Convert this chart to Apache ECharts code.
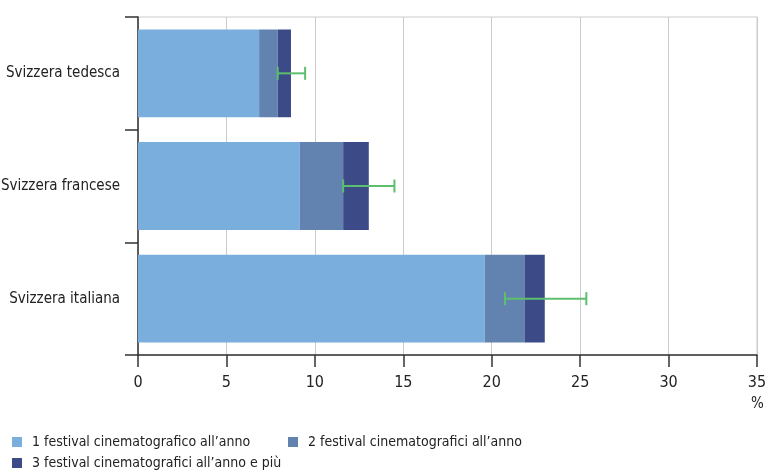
<!DOCTYPE html>
<html>
<head>
<meta charset="utf-8">
<script src="https://cdn.jsdelivr.net/npm/echarts@6/dist/echarts.min.js"></script>
<style>
html,body{margin:0;padding:0;background:#fff;}
#chart{width:765px;height:473px;}
</style>
</head>
<body>
<div id="chart"></div>
<script>
const categories = ['Svizzera tedesca', 'Svizzera francese', 'Svizzera italiana'];
const seriesNames = [
  '1 festival cinematografico all\u2019anno',
  '2 festival cinematografici all\u2019anno',
  '3 festival cinematografici all\u2019anno e più'
];
const one = [6.85, 9.15, 19.6];
const two = [1.05, 2.45, 2.25];
const three = [0.75, 1.45, 1.15];
const errLow = [7.9, 11.6, 20.75];
const errHigh = [9.45, 14.5, 25.35];
const xTicks = [0, 5, 10, 15, 20, 25, 30, 35];

const FONT = '"DejaVu Sans Condensed", "Liberation Sans Narrow", sans-serif';
const colors = ['#7aafdd', '#6283b0', '#3c4b87'];

const chart = echarts.init(document.getElementById('chart'));
const errData = categories.map((c, i) => [errLow[i], errHigh[i], i]);

function legendItem(name, left, top) {
  return {
    data: [name], left: left, top: top, orient: 'horizontal', padding: 0,
    icon: 'rect', itemWidth: 10, itemHeight: 10, itemGap: 10,
    textStyle: {fontFamily: FONT, fontSize: 14, color: '#222', padding: [0,0,0,5]},
    selectedMode: false
  };
}

chart.setOption({
  animation: false,
  color: colors,
  grid: {left: 138, right: 8, top: 17, bottom: 118, show: true, borderColor: '#cccccc', borderWidth: 1,
         containLabel: false, outerBoundsMode: 'none'},
  xAxis: {
    type: 'value', min: xTicks[0], max: xTicks[xTicks.length-1], interval: 5,
    axisLine: {show: true, lineStyle: {color: '#333', width: 1.5}},
    axisTick: {show: true, length: 12, lineStyle: {color: '#333', width: 1.5}},
    axisLabel: {fontFamily: FONT, fontSize: 16, color: '#222', margin: 20},
    splitLine: {show: true, lineStyle: {color: '#cccccc', width: 1}}
  },
  yAxis: {
    type: 'category', data: categories, inverse: true,
    axisLine: {show: true, lineStyle: {color: '#333', width: 1.5}},
    axisTick: {show: true, length: 13, lineStyle: {color: '#333', width: 1.5}},
    axisLabel: {fontFamily: FONT, fontSize: 15, color: '#222', margin: 18},
    splitLine: {show: false}
  },
  legend: [
    legendItem(seriesNames[0], 12, 435),
    legendItem(seriesNames[1], 288, 435),
    legendItem(seriesNames[2], 12, 456)
  ],
  graphic: [{
    type: 'text', left: 751, top: 397,
    style: {text: '%', font: '15px ' + FONT, fill: '#222'}
  }],
  series: [
    {name: seriesNames[0], type: 'bar', stack: 's', data: one, barCategoryGap: '22%', itemStyle: {color: colors[0]}},
    {name: seriesNames[1], type: 'bar', stack: 's', data: two, itemStyle: {color: colors[1]}},
    {name: seriesNames[2], type: 'bar', stack: 's', data: three, itemStyle: {color: colors[2]}},
    {
      type: 'custom', name: 'err', data: errData, encode: {x: [0, 1], y: 2}, z: 10,
      renderItem: function (params, api) {
        const lo = api.coord([api.value(0), api.value(2)]);
        const hi = api.coord([api.value(1), api.value(2)]);
        const h = 6.5;
        const st = {stroke: '#5cbf6e', lineWidth: 2};
        return {type: 'group', children: [
          {type: 'line', shape: {x1: lo[0], y1: lo[1], x2: hi[0], y2: hi[1]}, style: st},
          {type: 'line', shape: {x1: lo[0], y1: lo[1]-h, x2: lo[0], y2: lo[1]+h}, style: st},
          {type: 'line', shape: {x1: hi[0], y1: hi[1]-h, x2: hi[0], y2: hi[1]+h}, style: st}
        ]};
      }
    }
  ]
});
</script>
</body>
</html>
